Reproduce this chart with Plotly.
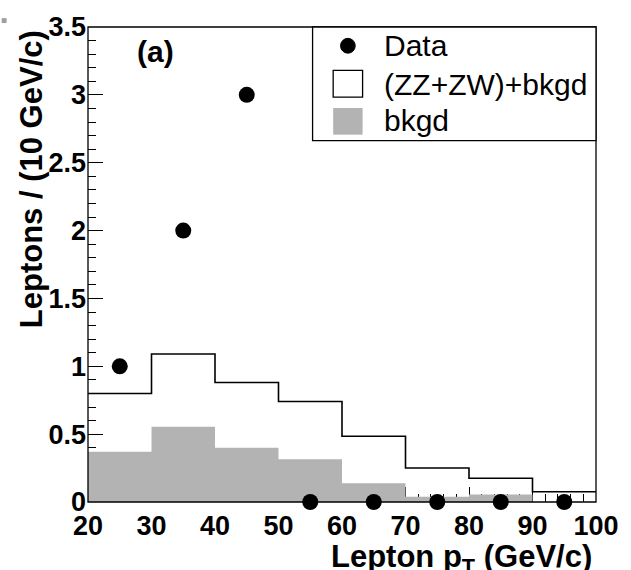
import plotly.graph_objects as go

# ---- data ----
bin_edges = [20, 30, 40, 50, 60, 70, 80, 90, 100]
total_vals = [0.80, 1.09, 0.88, 0.74, 0.485, 0.25, 0.175, 0.075]   # (ZZ+ZW)+bkgd
bkgd_vals = [0.37, 0.555, 0.40, 0.315, 0.138, 0.038, 0.056, 0.0]   # bkgd
data_x = [25, 35, 45, 55, 65, 75, 85, 95]
data_y = [1, 2, 3, 0, 0, 0, 0, 0]
x_ticks = [20, 30, 40, 50, 60, 70, 80, 90, 100]
legend_labels = ["Data", "(ZZ+ZW)+bkgd", "bkgd"]

W, H = 631, 570
# plot area bounds in page pixels
L, R, T, B = 88, 606, 21, 502
GRAY = "#b3b3b3"
FONT = "Liberation Sans, Arial, Helvetica, sans-serif"


def px(x):
    return (x - L) / (R - L)


def py(y):
    return (B - y) / (B - T)


fig = go.Figure()

# bkgd filled histogram
fig.add_trace(go.Scatter(
    x=bin_edges, y=bkgd_vals + [bkgd_vals[-1]],
    mode="lines", line=dict(shape="hv", width=0, color=GRAY),
    fill="tozeroy", fillcolor=GRAY, hoverinfo="skip", showlegend=False))

# total histogram outline
fig.add_trace(go.Scatter(
    x=bin_edges, y=total_vals + [total_vals[-1]],
    mode="lines", line=dict(shape="hv", width=1.6, color="black"),
    hoverinfo="skip", showlegend=False))

# data points
fig.add_trace(go.Scatter(
    x=data_x, y=data_y, mode="markers",
    marker=dict(size=16, color="black", symbol="circle"),
    cliponaxis=False, showlegend=False))

tickfont = dict(family=FONT, size=27, color="black", weight="bold")

fig.update_xaxes(
    range=[20, 100], tickvals=x_ticks, ticktext=[str(v) for v in x_ticks],
    ticks="inside", ticklen=15, tickwidth=1, tickcolor="black",
    minor=dict(dtick=2, ticks="inside", ticklen=8, tickcolor="black", tickwidth=1),
    showgrid=False, zeroline=False, showline=False, layer="below traces",
    tickfont=tickfont, ticklabelstandoff=5)
fig.update_yaxes(
    range=[0, 3.5], dtick=0.5, tick0=0,
    ticks="inside", ticklen=15, tickwidth=1, tickcolor="black",
    minor=dict(dtick=0.1, ticks="inside", ticklen=8, tickcolor="black", tickwidth=1),
    showgrid=False, zeroline=False, showline=False, layer="below traces",
    tickfont=tickfont, ticklabelstandoff=1)

shapes = [
    # frame
    dict(type="rect", xref="paper", yref="paper", x0=0, x1=1, y0=0, y1=1,
         line=dict(color="black", width=1.3), layer="above"),
    # legend box
    dict(type="rect", xref="paper", yref="paper", x0=px(317), x1=px(606),
         y0=py(136), y1=py(21), line=dict(color="black", width=1.3),
         fillcolor="white", layer="above"),
    # legend: data marker
    dict(type="circle", xref="paper", yref="paper", x0=px(345.5), x1=px(360.5),
         y0=py(47.5), y1=py(32.5), line=dict(color="black", width=1),
         fillcolor="black", layer="above"),
    # legend: open box
    dict(type="rect", xref="paper", yref="paper", x0=px(338), x1=px(368),
         y0=py(92), y1=py(65), line=dict(color="black", width=1.3),
         fillcolor="white", layer="above"),
    # legend: gray box
    dict(type="rect", xref="paper", yref="paper", x0=px(338), x1=px(368),
         y0=py(130), y1=py(103), line=dict(width=0), fillcolor=GRAY, layer="above"),
    # small gray corner mark
    dict(type="rect", xref="paper", yref="paper", x0=px(0), x1=px(5),
         y0=py(17), y1=py(12), line=dict(width=0), fillcolor="#a0a0a0", layer="above"),
]

legend_y = [40, 79, 116]
annotations = []
for lab, yy in zip(legend_labels, legend_y):
    annotations.append(dict(
        text=lab, xref="paper", yref="paper", x=px(388), y=py(yy),
        xanchor="left", yanchor="middle", showarrow=False,
        font=dict(family=FONT, size=30, color="black")))

annotations += [
    dict(text="(a)", xref="paper", yref="paper", x=px(157), y=py(46),
         xanchor="center", yanchor="middle", showarrow=False,
         font=dict(family=FONT, size=30, color="black", weight="bold")),
    dict(text="Lepton p<sub>T</sub> (GeV/c)", xref="paper", yref="paper",
         x=px(604), y=py(560), xanchor="right", yanchor="middle", showarrow=False,
         font=dict(family=FONT, size=31, color="black", weight="bold")),
    dict(text="Leptons / (10 GeV/c)", xref="paper", yref="paper",
         x=px(30), y=py(175), xanchor="center", yanchor="middle", showarrow=False,
         textangle=-90,
         font=dict(family=FONT, size=31, color="black", weight="bold")),
]

fig.update_layout(
    width=W, height=H,
    margin=dict(l=L, r=W - R, t=T, b=H - B, pad=0),
    paper_bgcolor="white", plot_bgcolor="white",
    showlegend=False, shapes=shapes, annotations=annotations,
)

fig.write_html(
    "out.html",
    config={"displayModeBar": False},
    post_script="document.body.style.margin='0';document.body.style.overflow='hidden';",
)
